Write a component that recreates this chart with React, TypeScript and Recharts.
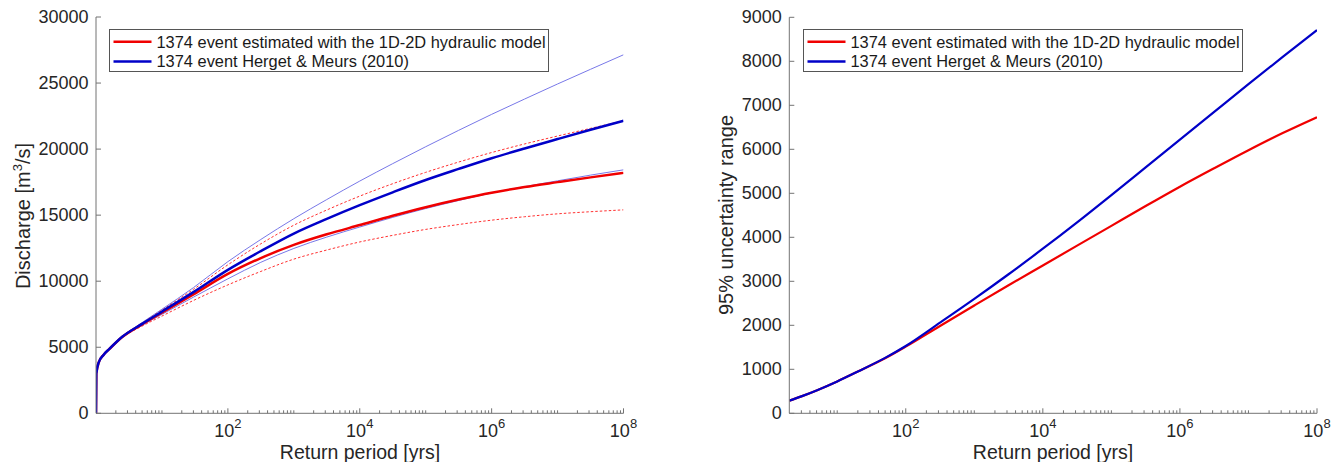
import React from "react";
import { LineChart, Line, XAxis, YAxis } from "recharts";

const FONT = '"Liberation Sans", Arial, Helvetica, sans-serif';
const AXIS = "#737373";
const INK = "#262626";
const RED = "#f00000";
const BLUE = "#0000c8";
const BLUE_THIN = "#7878e8";
const RED_THIN = "#ff3030";

const legendNames = [
  "1374 event estimated with the 1D-2D hydraulic model",
  "1374 event Herget & Meurs (2010)",
];

// left panel: discharge quantiles vs return period (yrs)
const periodsQ = [
  1, 1.01, 1.1, 1.3, 1.6, 2.5, 5, 10, 30, 100, 316, 1000, 3162, 1e4, 31623, 1e5,
  316228, 1e6, 3162278, 1e7, 31622777, 1e8,
];
const qHydraulic = [
  0, 3000, 3850, 4420, 4870, 5770, 6730, 7610, 9000, 10550, 11750, 12750, 13550,
  14250, 14950, 15600, 16180, 16700, 17130, 17500, 17860, 18200,
];
const qHydraulicHi = [
  0, 3000, 3850, 4430, 4890, 5810, 6830, 7810, 9380, 11240, 12830, 14240, 15390,
  16440, 17380, 18240, 19020, 19740, 20390, 20990, 21570, 22140,
];
const qHydraulicLo = [
  0, 3000, 3850, 4410, 4850, 5730, 6600, 7360, 8540, 9720, 10740, 11670, 12360,
  12970, 13470, 13920, 14290, 14620, 14880, 15100, 15260, 15400,
];
const qHerget = [
  0, 3000, 3850, 4420, 4880, 5790, 6770, 7700, 9170, 10860, 12280, 13610, 14720,
  15760, 16730, 17660, 18500, 19310, 20050, 20760, 21460, 22140,
];
const qHergetHi = [
  0, 3000, 3850, 4430, 4900, 5820, 6870, 7880, 9510, 11480, 13160, 14730, 16180,
  17580, 18900, 20180, 21420, 22630, 23790, 24930, 26040, 27140,
];
const qHergetLo = [
  0, 3000, 3850, 4410, 4860, 5750, 6660, 7490, 8790, 10180, 11430, 12480, 13340,
  14100, 14830, 15500, 16110, 16680, 17160, 17600, 18030, 18430,
];

// right panel: width of the 95% uncertainty band
const periodsU = [
  2, 3, 5, 10, 20, 50, 100, 316, 1000, 3162, 1e4, 31623, 1e5, 316228, 1e6,
  3162278, 1e7, 31622777, 1e8,
];
const uHydraulic = [
  287, 385, 520, 725, 950, 1250, 1515, 1985, 2450, 2910, 3360, 3810, 4260, 4710,
  5150, 5570, 5980, 6370, 6730,
];
const uHerget = [
  287, 385, 520, 725, 950, 1260, 1530, 2060, 2600, 3160, 3740, 4340, 4960, 5590,
  6220, 6850, 7480, 8100, 8710,
];

const qTicks = [0, 5000, 10000, 15000, 20000, 25000, 30000];
const uTicks = [0, 1000, 2000, 3000, 4000, 5000, 6000, 7000, 8000, 9000];
const labelledPeriods = [1e2, 1e4, 1e6, 1e8];

const qData = periodsQ.map((t, i) => ({
  t,
  hyd: qHydraulic[i],
  hydHi: qHydraulicHi[i],
  hydLo: qHydraulicLo[i],
  her: qHerget[i],
  herHi: qHergetHi[i],
  herLo: qHergetLo[i],
}));

const uData = periodsU.map((t, i) => ({ t, hyd: uHydraulic[i], her: uHerget[i] }));

// log-axis tick positions: 2..9 x 10^k plus the decades
function logTicks(min: number, max: number) {
  const out: number[] = [];
  for (let e = 0; e <= 8; e++) {
    for (let m = 1; m < 10; m++) {
      const v = m * 10 ** e;
      if (v > min && v <= max) out.push(v);
    }
  }
  return out;
}

const XTick = (props: any) => {
  const { x, y, payload } = props;
  const v = payload.value as number;
  const major = labelledPeriods.includes(v);
  return (
    <g>
      <line x1={x} x2={x} y1={y} y2={y - (major ? 5 : 3)} stroke={AXIS} strokeWidth={1} />
      {major && (
        <text x={x} y={y + 23.5} textAnchor="middle" fontSize={18} fill={INK} fontFamily={FONT}>
          10
          <tspan dy={-9} fontSize={13}>
            {Math.round(Math.log10(v))}
          </tspan>
        </text>
      )}
    </g>
  );
};

const YTick = (props: any) => {
  const { x, y, payload } = props;
  return (
    <g>
      <line x1={x} x2={x + 5} y1={y} y2={y} stroke={AXIS} strokeWidth={1} />
      <text
        x={x - 7.5}
        y={y}
        textAnchor="end"
        dominantBaseline="central"
        fontSize={18}
        fill={INK}
        fontFamily={FONT}
      >
        {payload.value}
      </text>
    </g>
  );
};

function LegendBox({ left }: { left: number }) {
  return (
    <g>
      <rect x={left} y={29.5} width={439} height={42} fill="#fff" stroke="#555" strokeWidth={1} />
      <line x1={left + 4} x2={left + 42} y1={41.7} y2={41.7} stroke={RED} strokeWidth={2.5} />
      <line x1={left + 4} x2={left + 42} y1={61.5} y2={61.5} stroke={BLUE} strokeWidth={2.5} />
      <text x={left + 47} y={47.5} fontSize={16.4} fill="#1a1a1a" fontFamily={FONT}>
        {legendNames[0]}
      </text>
      <text x={left + 47} y={67.2} fontSize={16.4} fill="#1a1a1a" fontFamily={FONT}>
        {legendNames[1]}
      </text>
    </g>
  );
}

export default function App() {
  return (
    <div
      style={{
        position: "absolute",
        left: 0,
        top: 0,
        width: 1340,
        height: 462,
        background: "#fff",
        fontFamily: FONT,
      }}
    >
      <div style={{ position: "absolute", left: 0, top: 0 }}>
        <LineChart width={670} height={462} data={qData} margin={{ top: 17, right: 46.5, left: 0, bottom: 0 }}>
          <XAxis
            dataKey="t"
            type="number"
            scale="log"
            domain={[1, 1e8]}
            allowDataOverflow
            ticks={logTicks(1, 1e8)}
            interval={0}
            tickSize={0}
            tickMargin={0}
            tickLine={false}
            tick={XTick}
            axisLine={{ stroke: AXIS }}
            height={48.7}
          />
          <YAxis
            type="number"
            domain={[0, 30000]}
            ticks={qTicks}
            interval={0}
            tickSize={0}
            tickMargin={0}
            tickLine={false}
            tick={YTick}
            axisLine={{ stroke: AXIS }}
            width={96}
          />
          <Line dataKey="herHi" type="monotone" stroke={BLUE_THIN} strokeWidth={1} dot={false} isAnimationActive={false} />
          <Line dataKey="herLo" type="monotone" stroke={BLUE_THIN} strokeWidth={1} dot={false} isAnimationActive={false} />
          <Line dataKey="hydHi" type="monotone" stroke={RED_THIN} strokeWidth={1} strokeDasharray="2.5 2" dot={false} isAnimationActive={false} />
          <Line dataKey="hydLo" type="monotone" stroke={RED_THIN} strokeWidth={1} strokeDasharray="2.5 2" dot={false} isAnimationActive={false} />
          <Line dataKey="hyd" type="monotone" stroke={RED} strokeWidth={2.5} dot={false} isAnimationActive={false} />
          <Line dataKey="her" type="monotone" stroke={BLUE} strokeWidth={2.5} dot={false} isAnimationActive={false} />
        </LineChart>
      </div>

      <div style={{ position: "absolute", left: 670, top: 0 }}>
        <LineChart width={670} height={462} data={uData} margin={{ top: 17.3, right: 23, left: 0, bottom: 0 }}>
          <XAxis
            dataKey="t"
            type="number"
            scale="log"
            domain={[2, 1e8]}
            allowDataOverflow
            ticks={logTicks(2, 1e8)}
            interval={0}
            tickSize={0}
            tickMargin={0}
            tickLine={false}
            tick={XTick}
            axisLine={{ stroke: AXIS }}
            height={48.7}
          />
          <YAxis
            type="number"
            domain={[0, 9000]}
            ticks={uTicks}
            interval={0}
            tickSize={0}
            tickMargin={0}
            tickLine={false}
            tick={YTick}
            axisLine={{ stroke: AXIS }}
            width={119.3}
          />
          <Line dataKey="hyd" type="monotone" stroke={RED} strokeWidth={2.2} dot={false} isAnimationActive={false} />
          <Line dataKey="her" type="monotone" stroke={BLUE} strokeWidth={2.2} dot={false} isAnimationActive={false} />
        </LineChart>
      </div>

      {/* axis titles and legends */}
      <svg
        width={1340}
        height={462}
        style={{ position: "absolute", left: 0, top: 0, pointerEvents: "none" }}
      >
        <text x={360} y={458.5} textAnchor="middle" fontSize={19.5} fill={INK} fontFamily={FONT}>
          Return period [yrs]
        </text>
        <text x={1053} y={458.5} textAnchor="middle" fontSize={19.5} fill={INK} fontFamily={FONT}>
          Return period [yrs]
        </text>
        <text
          transform="translate(29.5,216) rotate(-90)"
          textAnchor="middle"
          fontSize={20}
          fill={INK}
          fontFamily={FONT}
        >
          Discharge [m
          <tspan dy={-8} fontSize={13}>
            3
          </tspan>
          <tspan dy={8}>/s]</tspan>
        </text>
        <text
          transform="translate(732.5,215) rotate(-90)"
          textAnchor="middle"
          fontSize={20}
          fill={INK}
          fontFamily={FONT}
        >
          95% uncertainty range
        </text>
        <LegendBox left={109.5} />
        <LegendBox left={803.5} />
      </svg>
    </div>
  );
}
